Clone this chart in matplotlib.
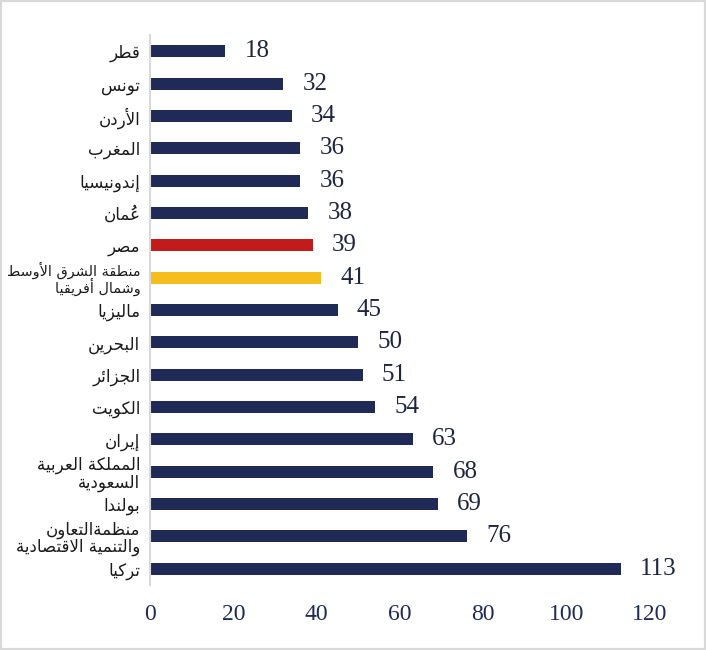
import matplotlib
matplotlib.use("Agg")
import matplotlib.pyplot as plt
from matplotlib.patches import Rectangle

# ---------------- data ----------------
categories = [
    "قطر", "تونس", "الأردن", "المغرب", "إندونيسيا", "عُمان", "مصر",
    "منطقة الشرق الأوسط\nوشمال أفريقيا", "ماليزيا", "البحرين", "الجزائر",
    "الكويت", "إيران", "المملكة العربية\nالسعودية", "بولندا",
    "منظمةالتعاون\nوالتنمية الاقتصادية", "تركيا",
]
values = [18, 32, 34, 36, 36, 38, 39, 41, 45, 50, 51, 54, 63, 68, 69, 76, 113]
highlight = {"مصر": "#c21b1b", "منطقة الشرق الأوسط\nوشمال أفريقيا": "#f6be1c"}
x_ticks = [0, 20, 40, 60, 80, 100, 120]

# ---------------- minimal Arabic shaping (presentation forms) ----------------
_F = {  # iso, fin, ini, med  (None for right-joining letters)
    'ء': ('\uFE80', None, None, None),
    'آ': ('\uFE81', '\uFE82', None, None), 'أ': ('\uFE83', '\uFE84', None, None),
    'ؤ': ('\uFE85', '\uFE86', None, None), 'إ': ('\uFE87', '\uFE88', None, None),
    'ئ': ('\uFE89', '\uFE8A', '\uFE8B', '\uFE8C'), 'ا': ('\uFE8D', '\uFE8E', None, None),
    'ب': ('\uFE8F', '\uFE90', '\uFE91', '\uFE92'), 'ة': ('\uFE93', '\uFE94', None, None),
    'ت': ('\uFE95', '\uFE96', '\uFE97', '\uFE98'), 'ث': ('\uFE99', '\uFE9A', '\uFE9B', '\uFE9C'),
    'ج': ('\uFE9D', '\uFE9E', '\uFE9F', '\uFEA0'), 'ح': ('\uFEA1', '\uFEA2', '\uFEA3', '\uFEA4'),
    'خ': ('\uFEA5', '\uFEA6', '\uFEA7', '\uFEA8'), 'د': ('\uFEA9', '\uFEAA', None, None),
    'ذ': ('\uFEAB', '\uFEAC', None, None), 'ر': ('\uFEAD', '\uFEAE', None, None),
    'ز': ('\uFEAF', '\uFEB0', None, None), 'س': ('\uFEB1', '\uFEB2', '\uFEB3', '\uFEB4'),
    'ش': ('\uFEB5', '\uFEB6', '\uFEB7', '\uFEB8'), 'ص': ('\uFEB9', '\uFEBA', '\uFEBB', '\uFEBC'),
    'ض': ('\uFEBD', '\uFEBE', '\uFEBF', '\uFEC0'), 'ط': ('\uFEC1', '\uFEC2', '\uFEC3', '\uFEC4'),
    'ظ': ('\uFEC5', '\uFEC6', '\uFEC7', '\uFEC8'), 'ع': ('\uFEC9', '\uFECA', '\uFECB', '\uFECC'),
    'غ': ('\uFECD', '\uFECE', '\uFECF', '\uFED0'), 'ف': ('\uFED1', '\uFED2', '\uFED3', '\uFED4'),
    'ق': ('\uFED5', '\uFED6', '\uFED7', '\uFED8'), 'ك': ('\uFED9', '\uFEDA', '\uFEDB', '\uFEDC'),
    'ل': ('\uFEDD', '\uFEDE', '\uFEDF', '\uFEE0'), 'م': ('\uFEE1', '\uFEE2', '\uFEE3', '\uFEE4'),
    'ن': ('\uFEE5', '\uFEE6', '\uFEE7', '\uFEE8'), 'ه': ('\uFEE9', '\uFEEA', '\uFEEB', '\uFEEC'),
    'و': ('\uFEED', '\uFEEE', None, None), 'ى': ('\uFEEF', '\uFEF0', None, None),
    'ي': ('\uFEF1', '\uFEF2', '\uFEF3', '\uFEF4'),
}
_LA = {'آ': ('\uFEF5', '\uFEF6'), 'أ': ('\uFEF7', '\uFEF8'),
       'إ': ('\uFEF9', '\uFEFA'), 'ا': ('\uFEFB', '\uFEFC')}
_MARKS = set(chr(c) for c in range(0x064B, 0x0653))


def _shape_line(s):
    units = []  # [key, marks, forms, dual]
    i = 0
    while i < len(s):
        ch = s[i]
        if ch in _MARKS and units:
            units[-1][1] += ch
            i += 1
            continue
        if ch == 'ل' and i + 1 < len(s) and s[i + 1] in _LA:
            iso, fin = _LA[s[i + 1]]
            units.append(['LA', '', (iso, fin, None, None), False])
            i += 2
            continue
        if ch in _F:
            f = _F[ch]
            units.append([ch, '', f, f[2] is not None])
        else:
            units.append([ch, '', None, False])
        i += 1
    out = []
    for k, u in enumerate(units):
        forms = u[2]
        if forms is None:
            out.append(u[1] + u[0])
            continue
        prev = units[k - 1] if k > 0 else None
        nxt = units[k + 1] if k + 1 < len(units) else None
        jp = prev is not None and prev[3] and forms[1] is not None
        jn = u[3] and nxt is not None and nxt[2] is not None and nxt[2][1] is not None
        if jp and jn:
            g = forms[3]
        elif jp:
            g = forms[1]
        elif jn:
            g = forms[2]
        else:
            g = forms[0]
        # mark placed just before its base in visual order so it sits over the base
        out.append(u[1] + g)
    return ''.join(reversed(out))


def ar(text):
    return '\n'.join(_shape_line(line) for line in text.split('\n'))


# ---------------- plot ----------------
navy = "#1f2a56"
fig = plt.figure(figsize=(7.06, 6.5), dpi=100)
ax = fig.add_axes([150 / 706, 65 / 650, 500 / 706, 550 / 650])

ypos = list(range(len(categories)))
colors = [highlight.get(c, navy) for c in categories]
bars = ax.barh(ypos, values, height=0.37, color=colors)
ax.set_ylim(len(categories) - 0.5, -0.5)
ax.set_xlim(0, 120)

ax.set_yticks(ypos)
ax.set_yticklabels([ar(c) for c in categories], fontsize=12,
                   fontfamily="DejaVu Sans", color="#1a1a1a", linespacing=0.95)
ax.set_xticks(x_ticks)
ax.set_xticklabels([str(t) for t in x_ticks], fontsize=17,
                   fontfamily="Liberation Serif", color=navy)
ax.tick_params(axis="both", length=0)
ax.tick_params(axis="y", pad=7)
ax.tick_params(axis="x", pad=14)

for b, v in zip(bars, values):
    ax.annotate(str(v), (b.get_width(), b.get_y() + b.get_height() / 2),
                xytext=(14, 0), textcoords="offset points", ha="left", va="center",
                fontsize=18, fontfamily="Liberation Serif", color="#1f2440")

for s in ("top", "right", "bottom"):
    ax.spines[s].set_visible(False)
ax.spines["left"].set_color("#d9d9d9")
ax.spines["left"].set_linewidth(1.5)

fig.patches.append(Rectangle((0, 0), 1, 1, transform=fig.transFigure, fill=False,
                             edgecolor="#d9d9d9", linewidth=3, zorder=10))

# shrink any label that would run past the left edge of the figure
fig.canvas.draw()
renderer = fig.canvas.get_renderer()
for lab in ax.get_yticklabels():
    bb = lab.get_window_extent(renderer)
    if bb.x0 < 7:
        lab.set_fontsize(lab.get_fontsize() * (bb.x1 - 7) / bb.width)

fig.savefig("out.png", dpi=100)
